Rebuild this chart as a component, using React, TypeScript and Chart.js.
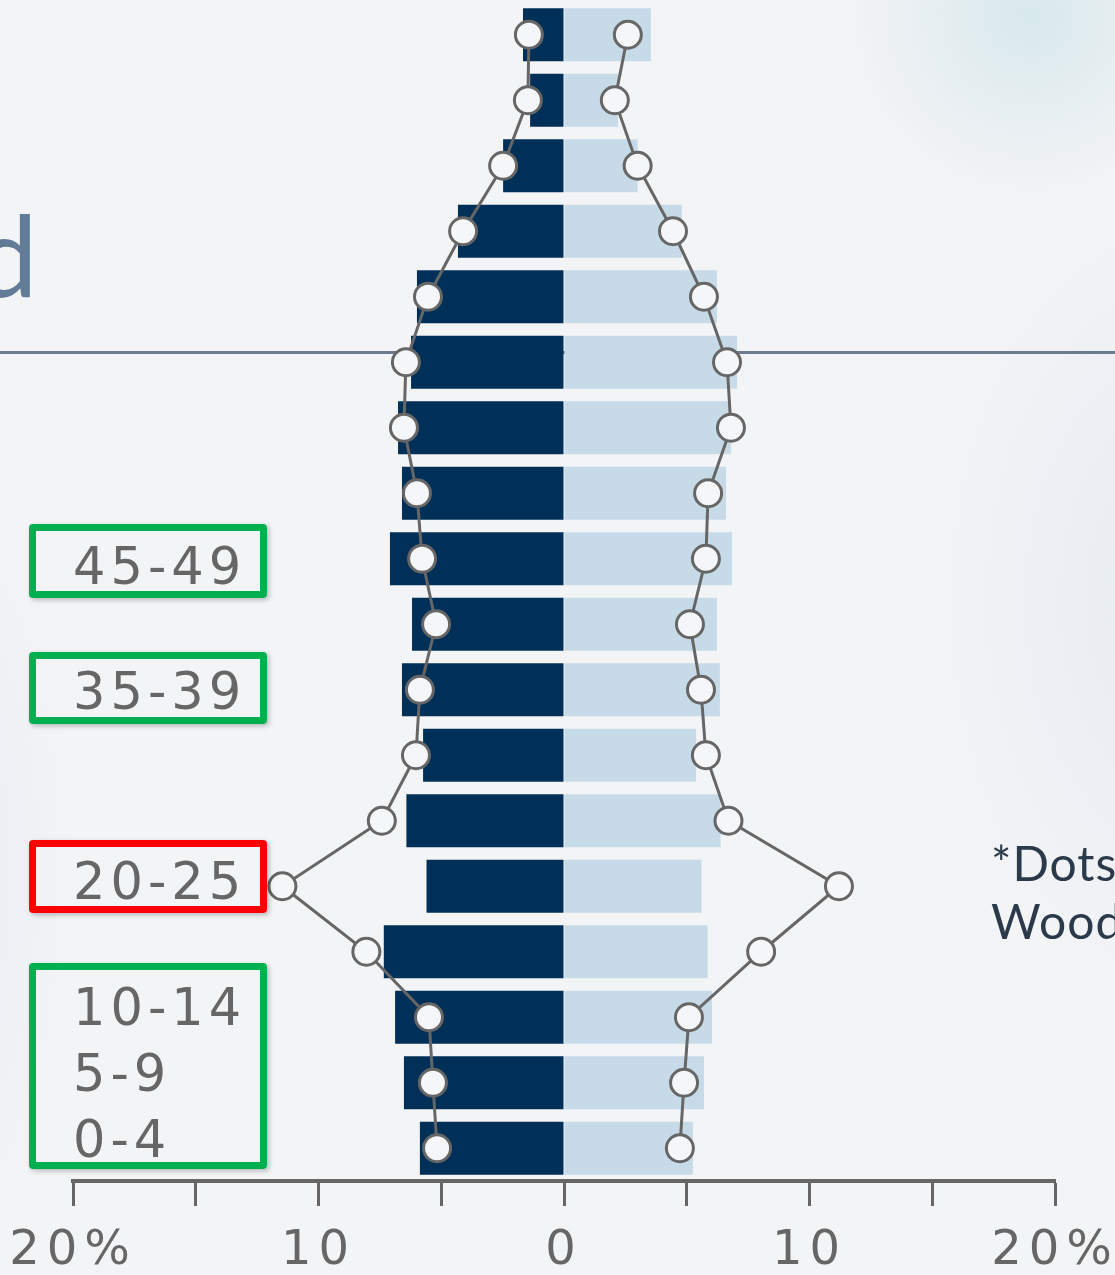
import React, { useEffect, useRef } from "react";
import { Chart, registerables } from "chart.js";

Chart.register(...registerables);

// Age groups, top row first
const categories = [
  "85+", "80-84", "75-79", "70-74", "65-69", "60-64", "55-59", "50-54", "45-49",
  "40-44", "35-39", "30-34", "25-29", "20-24", "15-19", "10-14", "5-9", "0-4",
];
// Bar values (% of population)
const maleBars = [1.67, 1.38, 2.48, 4.32, 5.99, 6.23, 6.76, 6.6, 7.09, 6.19, 6.6, 5.74, 6.42, 5.6, 7.34, 6.88, 6.52, 5.87];
const femaleBars = [3.54, 2.2, 3.0, 4.8, 6.23, 7.05, 6.8, 6.6, 6.84, 6.23, 6.35, 5.38, 6.38, 5.6, 5.85, 6.03, 5.7, 5.25];
// Dot values (% of population)
const maleDots = [1.43, 1.47, 2.48, 4.11, 5.54, 6.44, 6.52, 5.99, 5.78, 5.21, 5.87, 6.03, 7.42, 11.47, 8.05, 5.5, 5.34, 5.17];
const femaleDots = [2.6, 2.07, 3.0, 4.44, 5.7, 6.64, 6.8, 5.87, 5.78, 5.13, 5.58, 5.78, 6.7, 11.2, 8.03, 5.09, 4.89, 4.72];
// X axis tick labels
const tickValues = [-20, -10, 0, 10, 20];
const tickTexts = ["20%", "10", "0", "10", "20%"];
// Highlighted age labels
const greenLabelsA = ["45-49"];
const greenLabelsB = ["35-39"];
const redLabels = ["20-25"];
const greenLabelsC = ["10-14", "5-9", "0-4"];

const NAVY = "#003057";
const LIGHT = "#c7dae7";
const GREY = "#666666";
const BG = "#f3f4f6";

const spacingPlugin = {
  id: "letterSpacingTicks",
  beforeDraw(chart: any) {
    try {
      (chart.ctx as any).letterSpacing = "7px";
    } catch (e) {}
  },
};

function PyramidChart() {
  const ref = useRef<HTMLCanvasElement | null>(null);
  useEffect(() => {
    if (!ref.current) return;
    const dotStyle = {
      type: "line",
      indexAxis: "y",
      borderColor: GREY,
      borderWidth: 3,
      pointRadius: 13.5,
      pointBorderWidth: 3,
      pointBackgroundColor: "#f5f6f8",
      pointBorderColor: GREY,
      tension: 0,
      order: 1,
    };
    const barStyle = {
      type: "bar",
      grouped: false,
      barPercentage: 0.81,
      categoryPercentage: 1,
      order: 2,
    };
    const chart = new Chart(ref.current, {
      type: "bar",
      data: {
        labels: categories,
        datasets: [
          { ...dotStyle, data: maleDots.map((v) => -v) } as any,
          { ...dotStyle, data: femaleDots } as any,
          { ...barStyle, data: maleBars.map((v) => -v), backgroundColor: NAVY } as any,
          { ...barStyle, data: femaleBars, backgroundColor: LIGHT } as any,
        ],
      },
      options: {
        indexAxis: "y",
        animation: false,
        responsive: false,
        maintainAspectRatio: false,
        layout: { autoPadding: false, padding: { top: 2, bottom: 2, left: 73, right: 60 } },
        plugins: { legend: { display: false }, tooltip: { enabled: false } },
        scales: {
          y: { type: "category", display: false },
          x: {
            type: "linear",
            min: -20,
            max: 20,
            position: "bottom",
            afterFit: (scale: any) => {
              scale.paddingLeft = 0;
              scale.paddingRight = 0;
            },
            grid: {
              drawOnChartArea: false,
              drawTicks: true,
              tickLength: 25,
              tickColor: GREY,
              tickWidth: 3,
            },
            border: { display: true, color: GREY, width: 4 },
            ticks: {
              stepSize: 5,
              autoSkip: false,
              maxRotation: 0,
              padding: 10,
              color: GREY,
              font: { family: "'DejaVu Sans', Verdana, sans-serif", size: 48, lineHeight: 1.5 },
              callback: (value: any) => {
                const i = tickValues.indexOf(Number(value));
                return i >= 0 ? tickTexts[i] : "";
              },
            },
          },
        },
      } as any,
      plugins: [spacingPlugin],
    });
    return () => chart.destroy();
  }, []);
  return <canvas ref={ref} width={1115} height={1300} style={{ position: "absolute", left: 0, top: 0 }} />;
}

const boxStyle = (color: string, top: number, height: number): React.CSSProperties => ({
  position: "absolute",
  left: 29,
  top,
  width: 238,
  height,
  boxSizing: "border-box",
  border: `7px solid ${color}`,
  borderRadius: 4,
  boxShadow: "2px 2px 5px rgba(0,0,0,0.25)",
});

const labelStyle = (top: number): React.CSSProperties => ({
  position: "absolute",
  left: 73,
  top,
  fontFamily: "'DejaVu Sans', Verdana, sans-serif",
  fontSize: 51,
  lineHeight: "51px",
  letterSpacing: "5px",
  color: GREY,
  whiteSpace: "nowrap",
});

export default function App() {
  return (
    <div
      style={{
        position: "absolute",
        left: 0,
        top: 0,
        width: 1115,
        height: 1275,
        overflow: "hidden",
        background:
          "radial-gradient(circle at 1030px 15px, rgba(214,232,236,0.95) 0px, rgba(226,236,240,0.6) 110px, rgba(243,244,246,0) 190px)," +
          "radial-gradient(ellipse 260px 420px at 1180px 600px, rgba(228,234,241,0.9) 0px, rgba(243,244,246,0) 100%)," +
          "radial-gradient(ellipse 140px 400px at -60px 870px, rgba(230,236,242,0.9) 0px, rgba(243,244,246,0) 100%)," +
          BG,
      }}
    >
      {/* partial title */}
      <div
        style={{
          position: "absolute",
          left: -25,
          top: 198,
          fontFamily: "Lato, 'Noto Sans', sans-serif",
          fontWeight: 400,
          fontSize: 112,
          lineHeight: "112px",
          color: "#627b96",
          whiteSpace: "nowrap",
        }}
      >
        d
      </div>
      {/* divider line */}
      <div style={{ position: "absolute", left: 0, top: 351, width: 1115, height: 3, background: "#6d7b90" }} />

      <PyramidChart />

      {/* highlight boxes */}
      <div style={boxStyle("#00b050", 524, 74)} />
      <div style={boxStyle("#00b050", 652, 72)} />
      <div style={boxStyle("#ff0000", 840, 73)} />
      <div style={boxStyle("#00b050", 963, 206)} />
      <div style={labelStyle(541)}>{greenLabelsA[0]}</div>
      <div style={labelStyle(666)}>{greenLabelsB[0]}</div>
      <div style={labelStyle(856)}>{redLabels[0]}</div>
      <div style={labelStyle(982)}>{greenLabelsC[0]}</div>
      <div style={labelStyle(1048)}>{greenLabelsC[1]}</div>
      <div style={labelStyle(1114)}>{greenLabelsC[2]}</div>

      {/* note */}
      <div
        style={{
          position: "absolute",
          left: 991,
          top: 834,
          fontFamily: "Lato, 'Noto Sans', sans-serif",
          fontSize: 48,
          lineHeight: "58px",
          letterSpacing: "1px",
          color: "#2b3a4a",
          whiteSpace: "nowrap",
        }}
      >
        <div>*Dots represent</div>
        <div>Woods &amp; Poole</div>
      </div>
    </div>
  );
}
